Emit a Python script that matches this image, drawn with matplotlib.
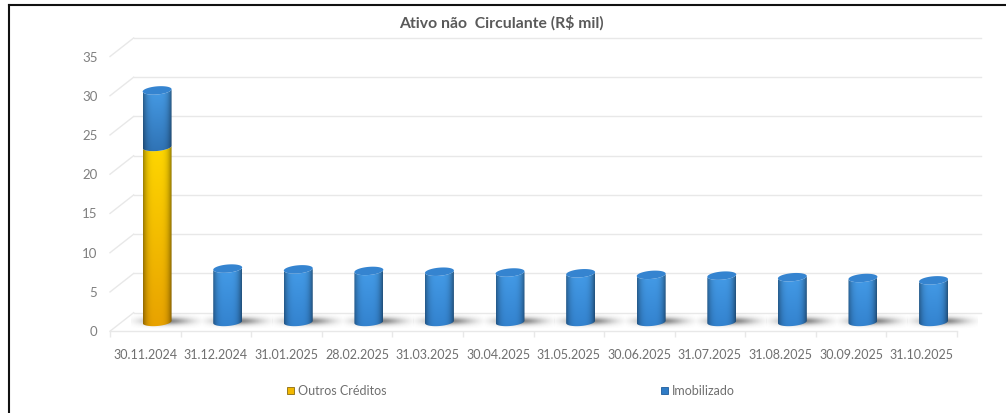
#!/usr/bin/env python3
"""Ativo nao Circulante - stacked cylinders in fake 3D."""

import matplotlib
matplotlib.use("Agg")
import matplotlib.pyplot as plt
import numpy as np
from matplotlib.colors import to_rgb
from matplotlib.patches import Polygon, Rectangle

plt.rcParams["font.family"] = ["Lato", "DejaVu Sans"]

W, H = 1006, 414

dates = ["30.11.2024", "31.12.2024", "31.01.2025", "28.02.2025", "31.03.2025", "30.04.2025",
         "31.05.2025", "30.06.2025", "31.07.2025", "31.08.2025", "30.09.2025", "31.10.2025"]
outros = [22.3, 0, 0, 0, 0, 0, 0, 0, 0, 0, 0, 0]
imobilizado = [7.2, 6.8, 6.7, 6.5, 6.4, 6.3, 6.2, 6.0, 5.9, 5.7, 5.6, 5.3]
yticks = [0, 5, 10, 15, 20, 25, 30, 35]

GREY = "#7f7f7f"
GRID = "#e8e8e8"

# chart depth, in data units
DX = 0.335
DY = 2.36
RX = 0.205   # cylinder half width
RY = 0.52    # ellipse half height
SKEW = 0.15  # ellipse tilt, right side higher


def shade(top, bottom, edge_dim_l=0.62, edge_dim_r=0.55):
    """Cylinder fill: dark at both sides, top colour blending into bottom colour."""
    top, bottom = np.array(to_rgb(top)), np.array(to_rgb(bottom))
    u = np.linspace(-1, 1, 80)
    side = np.where(u < 0, edge_dim_l, edge_dim_r)
    dim = 1 - (1 - side) * np.abs(u) ** 3.5
    s = np.linspace(0, 1, 60)[:, None, None]
    col = top[None, None, :] * (1 - s) + bottom[None, None, :] * s
    return np.clip(col * dim[None, :, None], 0, 1)


def ell(cx, cy, t):
    return cx + RX * np.cos(t), cy + RY * np.sin(t) + SKEW * np.cos(t)


def body(ax, cx, y0, y1, img, zorder):
    t = np.linspace(np.pi, 2 * np.pi, 40)
    xb, yb = ell(cx, y0, t)
    xt, yt = ell(cx, y1, t[::-1])
    poly = Polygon(np.c_[np.r_[xb, xt], np.r_[yb, yt]], transform=ax.transData, fc="none", ec="none")
    ax.add_patch(poly)
    im = ax.imshow(img, extent=(cx - RX, cx + RX, y0 - RY - 0.3, y1 + RY + 0.3),
                   aspect="auto", origin="upper", zorder=zorder, interpolation="bilinear")
    im.set_clip_path(poly)


def top_cap(ax, cx, y, color, zorder):
    t = np.linspace(0, 2 * np.pi, 60)
    xs, ys = ell(cx, y, t)
    ax.fill(xs, ys, color=color, ec="none", zorder=zorder, clip_on=False)


def floor_shadow(ax, cx, cy, zorder):
    u = np.linspace(-1, 1, 120)
    v = np.linspace(-1, 1, 24)
    uu, vv = np.meshgrid(u, v)
    alpha = 0.62 * np.exp(-(uu / 0.62) ** 2) * np.exp(-(vv / 0.45) ** 2)
    alpha += 0.08 * (1 - uu ** 2) * (1 - vv ** 2)
    rgba = np.zeros(alpha.shape + (4,))
    rgba[..., :3] = 0.30
    rgba[..., 3] = np.clip(alpha, 0, 1)
    ax.imshow(rgba, extent=(cx - 0.50, cx + 0.50, cy - 1.0, cy + 1.0), aspect="auto",
              zorder=zorder, interpolation="bilinear", clip_on=False)


fig = plt.figure(figsize=(W / 100, H / 100), dpi=100)
ax = fig.add_axes([110 / W, 1 - 332.2 / H, 847 / W, 274.7 / H])
ax.patch.set_alpha(0)
ax.set_xlim(-0.5, 11.5)
ax.set_ylim(0, 35)

# wall and floor lines
for v in yticks:
    ax.plot([-0.5, -0.5 + DX], [v, v + DY], color=GRID, lw=1.0, clip_on=False, zorder=1)
    ax.plot([-0.5 + DX, 11.5 + DX], [v + DY, v + DY], color=GRID, lw=1.0, clip_on=False, zorder=1)
ax.plot([-0.5, 11.5], [0, 0], color=GRID, lw=1.0, clip_on=False, zorder=1)

yellow = shade("#ffd800", "#e8a200")
blue_low = shade("#469eea", "#3382ce")
blue_top = shade("#489fea", "#2f72b4")

for i, (a, b) in enumerate(zip(outros, imobilizado)):
    cx = i + DX / 2
    cy = DY / 2
    floor_shadow(ax, cx + 0.13, cy + 0.1, 2)
    if a > 0:
        body(ax, cx, cy, cy + a, yellow, 3)
        body(ax, cx, cy + a, cy + a + b, blue_top, 4)
    else:
        body(ax, cx, cy, cy + b, blue_low, 3)
    top_cap(ax, cx, cy + a + b, "#3584d0", 5)

ax.set_xlim(-0.5, 11.5)
ax.set_ylim(0, 35)

for s in ax.spines.values():
    s.set_visible(False)
ax.set_yticks(yticks)
ax.tick_params(axis="y", length=0, labelsize=9.5, labelcolor=GREY, pad=9)
for lab in ax.get_yticklabels():
    lab.set_verticalalignment("center")
ax.set_xticks(range(len(dates)))
ax.set_xticklabels(dates)
ax.tick_params(axis="x", which="major", length=0, labelsize=9, labelcolor="#6f6f6f", pad=12)
ax.set_xticks(np.arange(-0.5, 12, 1), minor=True)
ax.tick_params(axis="x", which="minor", length=4.5, color=GRID, width=1)

# title and legend, in figure pixels
fig.text(501.5 / W, 1 - 23 / H, "Ativo não  Circulante (R$ mil)", ha="center", va="center",
         fontsize=11.3, fontweight="bold", color="#595959")

for px, label, c, e in ((287, "Outros Créditos", "#f2b800", "#8a6a10"),
                        (661, "Imobilizado", "#2f7cc6", "#1d5c9c")):
    fig.add_artist(Rectangle((px / W, 1 - 395 / H), 7 / W, 7 / H, transform=fig.transFigure,
                             fc=c, ec=e, lw=0.6))
    fig.text((px + 11) / W, 1 - 391 / H, label, ha="left", va="center", fontsize=9, color="#6f6f6f")

# screenshot frame
fig.add_artist(plt.Line2D([9.3 / W, 9.3 / W], [0, 1 - 5.5 / H], color="#111111", lw=1.5))
fig.add_artist(plt.Line2D([8.6 / W, 1], [1 - 5.5 / H, 1 - 5.5 / H], color="#111111", lw=1.5))

fig.savefig("out.png", dpi=100)
